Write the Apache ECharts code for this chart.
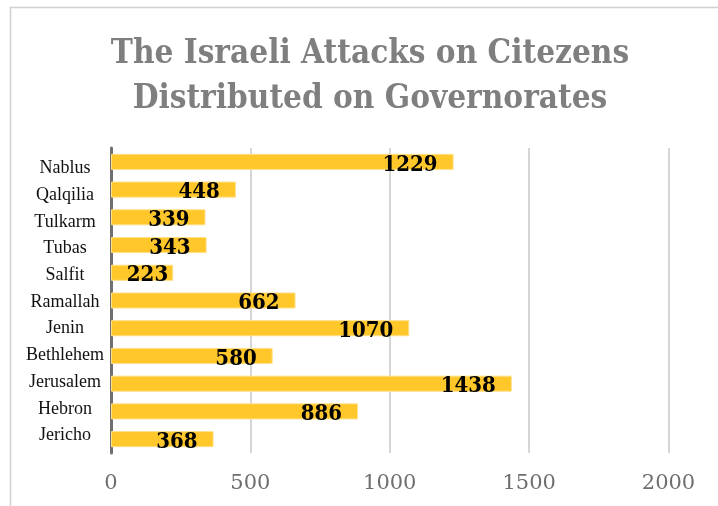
<!DOCTYPE html>
<html>
<head>
<meta charset="utf-8">
<script src="https://cdn.jsdelivr.net/npm/echarts@6/dist/echarts.min.js"></script>
<style>
  html, body { margin: 0; padding: 0; background: #fff; }
  #main { width: 718px; height: 506px; }
</style>
</head>
<body>
<div id="main"></div>
<script>
// governorates, top to bottom as shown
const governorates = ["Nablus", "Qalqilia", "Tulkarm", "Tubas", "Salfit", "Ramallah",
  "Jenin", "Bethlehem", "Jerusalem", "Hebron", "Jericho"];
const attacks = [1229, 448, 339, 343, 223, 662, 1070, 580, 1438, 886, 368];
const xTicks = [0, 500, 1000, 1500, 2000];

const chart = echarts.init(document.getElementById("main"));

const option = {
  animation: false,
  graphic: [
    {
      // outer chart frame
      type: "rect",
      shape: { x: 10.5, y: 7.5, width: 800, height: 600 },
      style: { fill: "none", stroke: "#d0d0d0", lineWidth: 1.5 }
    }
  ],
  title: {
    text: "The Israeli Attacks on Citezens\nDistributed on Governorates",
    left: 365,
    top: 27,
    textAlign: "center",
    textStyle: {
      fontFamily: "DejaVu Serif Condensed",
      fontWeight: "bold",
      fontSize: 33,
      lineHeight: 45,
      color: "#7f7f7f"
    }
  },
  // grid 0 holds the bars, grid 1 only carries the category labels
  // (their spacing in the original is a bit tighter than the bars)
  grid: [
    { left: 111, right: 49.5, top: 148, bottom: 53 },
    { left: 111, right: 49.5, top: 155, bottom: 57 }
  ],
  xAxis: [
    {
      type: "value",
      gridIndex: 0,
      min: xTicks[0],
      max: xTicks[xTicks.length - 1],
      interval: 500,
      axisLine: { show: false },
      axisTick: { show: false },
      axisLabel: {
        margin: 20,
        formatter: v => String(v),
        fontFamily: "DejaVu Serif",
        fontSize: 21,
        color: "#6e6e6e"
      },
      splitLine: { lineStyle: { color: "#c8c8c8", width: 1.5 } }
    },
    { type: "value", gridIndex: 1, show: false }
  ],
  yAxis: [
    {
      type: "category",
      gridIndex: 0,
      data: governorates,
      inverse: true,
      axisLine: { lineStyle: { color: "#6f6f6f", width: 3 } },
      axisTick: { show: false },
      axisLabel: { show: false }
    },
    {
      type: "category",
      gridIndex: 1,
      data: governorates,
      inverse: true,
      axisLine: { show: false },
      axisTick: { show: false },
      axisLabel: {
        align: "center",
        margin: 46,
        fontFamily: "Liberation Serif",
        fontSize: 18,
        color: "#111"
      }
    }
  ],
  series: [
    {
      type: "bar",
      xAxisIndex: 0,
      yAxisIndex: 0,
      data: attacks.map((v, i) => i === 4 ? { value: v, label: { distance: 5 } } : v),
      barWidth: "58%",
      itemStyle: { color: "#FFC72A", borderColor: "#FFE08A", borderWidth: 1 },
      label: {
        show: true,
        position: "insideRight",
        distance: 16,
        offset: [0, 3],
        fontFamily: "DejaVu Serif Condensed",
        fontWeight: "bold",
        fontSize: 22,
        color: "#000"
      }
    }
  ]
};

chart.setOption(option);
</script>
</body>
</html>
